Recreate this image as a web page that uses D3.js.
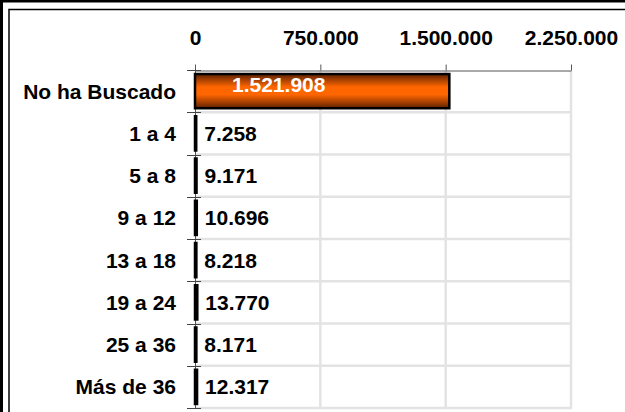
<!DOCTYPE html>
<html>
<head>
<meta charset="utf-8">
<title>No ha Buscado</title>
<style>
  body { margin: 0; background: #fff; }
  svg text { font-family: "Liberation Sans", Arial, sans-serif; font-weight: bold; }
</style>
</head>
<body>
<svg width="625" height="412"></svg>
<script src="https://cdn.jsdelivr.net/npm/d3@7"></script>
<script>

    var categories = ["No ha Buscado", "1 a 4", "5 a 8", "9 a 12", "13 a 18", "19 a 24", "25 a 36", "Más de 36"];
    var values = [1521908, 7258, 9171, 10696, 8218, 13770, 8171, 12317];
    var tickValues = [0, 750000, 1500000, 2250000];

    var svg = d3.select("svg");

    var es = d3.formatLocale({decimal: ",", thousands: ".", grouping: [3], currency: ["", ""]});
    var fmt = es.format(",d");

    var x = d3.scaleLinear()
        .domain([0, 2250000])
        .range([195, 571]);

    var y = d3.scaleBand()
        .domain(categories)
        .range([70, 408])
        .paddingInner(0.19)
        .paddingOuter(0.095);

    // bar gradient
    var grad = svg.append("defs").append("linearGradient")
        .attr("id", "barGrad")
        .attr("x1", 0).attr("y1", 0).attr("x2", 0).attr("y2", 1);
    grad.append("stop").attr("offset", "0%").attr("stop-color", "#5e2200");
    grad.append("stop").attr("offset", "38%").attr("stop-color", "#ff6600");
    grad.append("stop").attr("offset", "60%").attr("stop-color", "#ff6600");
    grad.append("stop").attr("offset", "100%").attr("stop-color", "#5e2200");

    // frame
    svg.append("rect")
        .attr("x", 1.5).attr("y", 1)
        .attr("width", 640).attr("height", 430)
        .attr("fill", "none")
        .attr("stroke", "#000")
        .attr("stroke-width", 3);
    svg.append("rect")
        .attr("x", 9).attr("y", 9.5)
        .attr("width", 640).attr("height", 430)
        .attr("fill", "none")
        .attr("stroke", "#000")
        .attr("stroke-width", 1.5);

    // boundaries between categories
    var step = y.step();
    var bounds = d3.range(categories.length + 1).map(function(i) { return y.range()[0] + i * step; });

    var grid = svg.append("g").attr("class", "grid");
    grid.selectAll("line.h")
        .data(bounds.slice(1))
        .enter().append("line")
            .attr("class", "h")
            .attr("x1", x(0)).attr("x2", x(2250000) + 1)
            .attr("y1", function(d) { return d; })
            .attr("y2", function(d) { return d; })
            .attr("stroke", "#e3e3e3")
            .attr("stroke-width", 2.5);
    grid.selectAll("line.v")
        .data(tickValues.slice(1))
        .enter().append("line")
            .attr("class", "v")
            .attr("x1", function(d) { return x(d); })
            .attr("x2", function(d) { return x(d); })
            .attr("y1", 71).attr("y2", 409)
            .attr("stroke", "#e3e3e3")
            .attr("stroke-width", 2.5);

    // top axis
    var topAxis = svg.append("g")
        .attr("transform", "translate(0,70.5)")
        .call(d3.axisTop(x).tickValues(tickValues).tickSize(6).tickSizeOuter(0).tickFormat(fmt));
    topAxis.select(".domain").attr("stroke", "#555");
    topAxis.selectAll(".tick line").attr("stroke", "#555");
    topAxis.selectAll(".tick text")
        .attr("y", -26)
        .attr("font-size", "21px")
        .attr("font-family", "Liberation Sans, Arial, sans-serif")
        .attr("fill", "#000");

    // left axis
    var leftAxis = svg.append("g");
    leftAxis.append("line")
        .attr("x1", x(0) + 0.5).attr("x2", x(0) + 0.5)
        .attr("y1", bounds[0]).attr("y2", bounds[bounds.length - 1])
        .attr("stroke", "#555");
    leftAxis.selectAll("line.tick")
        .data(bounds)
        .enter().append("line")
            .attr("class", "tick")
            .attr("x1", 187).attr("x2", 201)
            .attr("y1", function(d) { return Math.round(d) + 0.5; })
            .attr("y2", function(d) { return Math.round(d) + 0.5; })
            .attr("stroke", "#444");
    leftAxis.selectAll("text")
        .data(categories)
        .enter().append("text")
            .attr("x", 176)
            .attr("y", function(d) { return y(d) + y.bandwidth() / 2; })
            .attr("dy", "0.36em")
            .attr("text-anchor", "end")
            .attr("font-size", "21px")
            .attr("fill", "#000")
            .text(function(d) { return d; });

    // bars
    svg.append("g").selectAll("rect")
        .data(values)
        .enter().append("rect")
            .attr("x", x(0))
            .attr("y", function(d, i) { return y(categories[i]); })
            .attr("width", function(d) { return x(d) - x(0); })
            .attr("height", y.bandwidth())
            .attr("fill", "url(#barGrad)")
            .attr("stroke", "#000")
            .attr("stroke-width", 2.5);

    // value labels
    svg.append("g").selectAll("text")
        .data(values)
        .enter().append("text")
            .attr("x", function(d) { return d > 500000 ? x(0) + 37 : x(d) + 8; })
            .attr("y", function(d, i) { return y(categories[i]) + y.bandwidth() / 2; })
            .attr("dy", function(d) { return d > 500000 ? "0.06em" : "0.36em"; })
            .attr("font-size", "21px")
            .attr("fill", function(d) { return d > 500000 ? "#fff" : "#000"; })
            .text(function(d) { return fmt(d); });

</script>
</body>
</html>
